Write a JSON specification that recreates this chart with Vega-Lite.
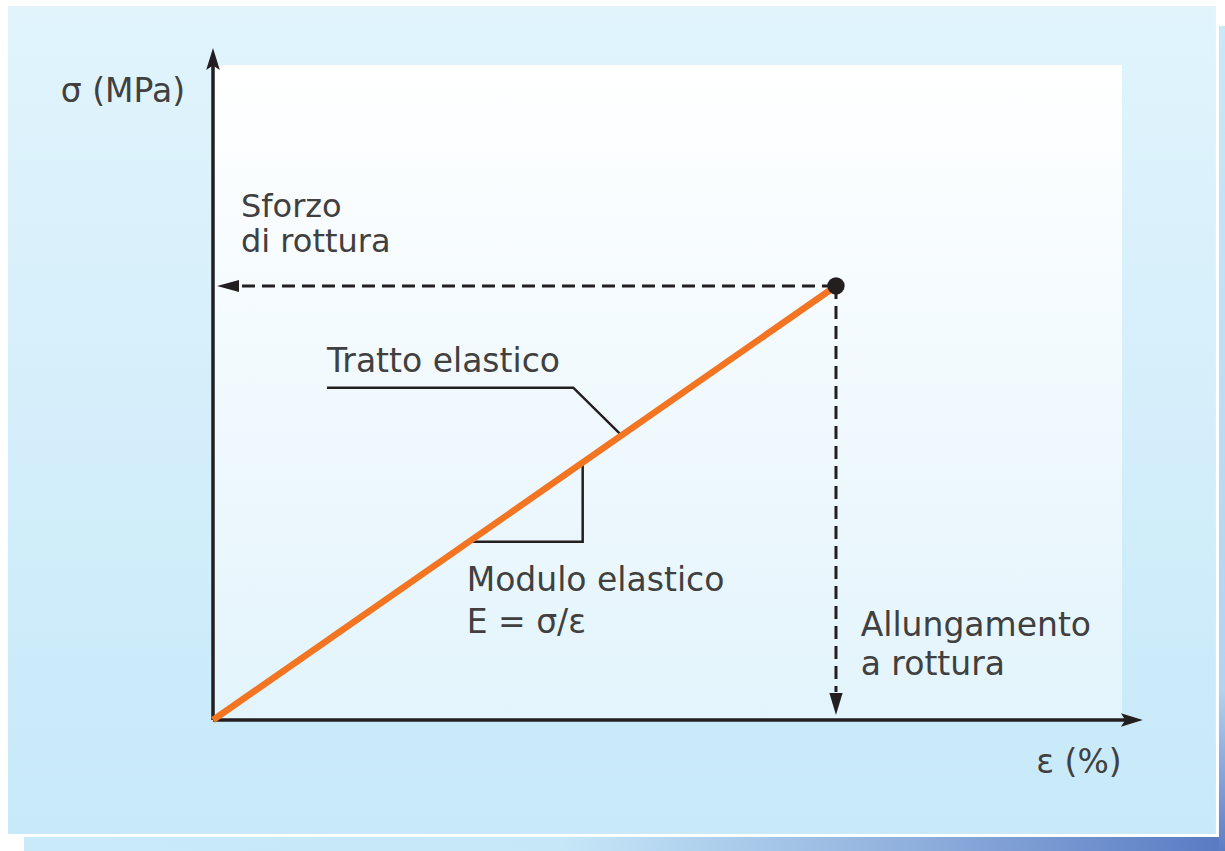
{
  "$schema": "https://vega.github.io/schema/vega-lite/v6.json",
  "width": 909,
  "height": 655,
  "autosize": {"type": "none"},
  "padding": {"left": 213, "top": 65, "right": 103, "bottom": 131},
  "background": "#ffffff",
  "config": {"view": {"stroke": null}, "text": {"font": "DejaVu Sans", "fontSize": 33, "color": "#404040", "baseline": "alphabetic", "lineBreak": "\n"}},
  "encoding": {
    "x": {"field": "eps", "type": "quantitative", "scale": {"domain": [0, 14.591], "nice": false, "zero": false}, "axis": null},
    "y": {"field": "sigma", "type": "quantitative", "scale": {"domain": [0, 15.092], "nice": false, "zero": false}, "axis": null}
  },
  "layer": [
    {
      "data": {"values": [{"eps": -3.291, "eps2": 16.099, "sigma": 16.452, "sigma2": -2.627}]},
      "mark": {"type": "rect", "color": {"gradient": "linear", "x1": 0, "y1": 0, "x2": 0, "y2": 1, "stops": [{"offset": 0, "color": "#e1f4fc"}, {"offset": 1, "color": "#c7e9f9"}]}},
      "encoding": {"x2": {"field": "eps2"}, "y2": {"field": "sigma2"}}
    },
    {
      "data": {"values": [{"eps": -3.034, "eps2": 16.148, "sigma": -2.696, "sigma2": -3.1}]},
      "mark": {"type": "rect", "color": {"gradient": "linear", "x1": 0, "y1": 0, "x2": 1, "y2": 0, "stops": [{"offset": 0, "color": "#c8eaf9"}, {"offset": 0.45, "color": "#c6e7f8"}, {"offset": 0.75, "color": "#8eaedc"}, {"offset": 1, "color": "#5a7bc3"}]}},
      "encoding": {"x2": {"field": "eps2"}, "y2": {"field": "sigma2"}}
    },
    {
      "data": {"values": [{"eps": 16.148, "eps2": 16.3, "sigma": 15.991, "sigma2": -3.1}]},
      "mark": {"type": "rect", "color": {"gradient": "linear", "x1": 0, "y1": 0, "x2": 0, "y2": 1, "stops": [{"offset": 0, "color": "#c8e9f9"}, {"offset": 0.8, "color": "#b2d3f1"}, {"offset": 1, "color": "#5a7bc3"}]}},
      "encoding": {"x2": {"field": "eps2"}, "y2": {"field": "sigma2"}}
    },
    {
      "data": {"values": [{"eps": 0, "eps2": 14.591, "sigma": 15.092, "sigma2": 0}]},
      "mark": {"type": "rect", "color": {"gradient": "linear", "x1": 0, "y1": 0, "x2": 0, "y2": 1, "stops": [{"offset": 0, "color": "#ffffff"}, {"offset": 1, "color": "#e3f4fc"}]}},
      "encoding": {"x2": {"field": "eps2"}, "y2": {"field": "sigma2"}}
    },
    {
      "data": {"values": [{"eps": 5.934, "sigma": 5.934, "ord": 1}, {"eps": 5.934, "sigma": 4.108, "ord": 2}, {"eps": 4.108, "sigma": 4.108, "ord": 3}]},
      "mark": {"type": "line", "color": "#231f20", "strokeWidth": 2.5, "strokeJoin": "miter"},
      "encoding": {"order": {"field": "ord", "type": "quantitative"}}
    },
    {
      "data": {"values": [{"eps": 1.83, "sigma": 7.657, "ord": 1}, {"eps": 5.783, "sigma": 7.657, "ord": 2}, {"eps": 6.53, "sigma": 6.6, "ord": 3}]},
      "mark": {"type": "line", "color": "#231f20", "strokeWidth": 2.5},
      "encoding": {"order": {"field": "ord", "type": "quantitative"}}
    },
    {
      "data": {"values": [{"eps": 0.465, "eps2": 10, "sigma": 10, "sigma2": 10}, {"eps": 10, "eps2": 10, "sigma": 10, "sigma2": 0.645}]},
      "mark": {"type": "rule", "color": "#231f20", "strokeWidth": 3, "strokeDash": [13, 7]},
      "encoding": {"x2": {"field": "eps2"}, "y2": {"field": "sigma2"}}
    },
    {
      "data": {"values": [{"eps": 0, "eps2": 14.7, "sigma": 0, "sigma2": 0}, {"eps": 0, "eps2": 0, "sigma": 0, "sigma2": 15.2}]},
      "mark": {"type": "rule", "color": "#231f20", "strokeWidth": 3.5},
      "encoding": {"x2": {"field": "eps2"}, "y2": {"field": "sigma2"}}
    },
    {
      "data": {"values": [{"eps": 0, "sigma": 0}, {"eps": 10, "sigma": 10}]},
      "mark": {"type": "line", "color": "#f47521", "strokeWidth": 6.5, "strokeCap": "butt"},
      "encoding": {}
    },
    {
      "data": {"values": [{"eps": 10, "sigma": 10}]},
      "mark": {"type": "point", "filled": true, "opacity": 1, "color": "#231f20", "size": 300, "shape": "circle"},
      "encoding": {}
    },
    {
      "data": {"values": [{"eps": 0, "sigma": 15.23}]},
      "mark": {"type": "point", "filled": true, "opacity": 1, "color": "#231f20", "size": 484, "shape": "M0,-1L0.62,1L0,0.6L-0.62,1Z"},
      "encoding": {}
    },
    {
      "data": {"values": [{"eps": 14.75, "sigma": 0}]},
      "mark": {"type": "point", "filled": true, "opacity": 1, "color": "#231f20", "size": 484, "shape": "M1,0L-1,-0.62L-0.6,0L-1,0.62Z"},
      "encoding": {}
    },
    {
      "data": {"values": [{"eps": 0.241, "sigma": 10}]},
      "mark": {"type": "point", "filled": true, "opacity": 1, "color": "#231f20", "size": 484, "shape": "M-1,0L1,-0.55L1,0.55Z"},
      "encoding": {}
    },
    {
      "data": {"values": [{"eps": 10, "sigma": 0.369}]},
      "mark": {"type": "point", "filled": true, "opacity": 1, "color": "#231f20", "size": 484, "shape": "M0,1L0.6,-1L-0.6,-1Z"},
      "encoding": {}
    },
    {
      "data": {"values": [{"eps": 0.449, "sigma": 11.59, "label": "Sforzo\ndi rottura"}]},
      "mark": {"type": "text", "align": "left", "lineHeight": 35, "fontSize": 32},
      "encoding": {"text": {"field": "label"}}
    },
    {
      "data": {"values": [{"eps": 1.83, "sigma": 8.011, "label": "Tratto elastico"}]},
      "mark": {"type": "text", "align": "left"},
      "encoding": {"text": {"field": "label"}}
    },
    {
      "data": {"values": [{"eps": 4.072, "sigma": 2.979, "label": "Modulo elastico\nE = σ/ε"}]},
      "mark": {"type": "text", "align": "left", "lineHeight": 42},
      "encoding": {"text": {"field": "label"}}
    },
    {
      "data": {"values": [{"eps": 10.396, "sigma": 1.935, "label": "Allungamento\na rottura"}]},
      "mark": {"type": "text", "align": "left", "lineHeight": 39},
      "encoding": {"text": {"field": "label"}}
    },
    {
      "data": {"values": [
        {"eps": -0.449, "sigma": 14.24, "label": "σ (MPa)"},
        {"eps": 14.586, "sigma": -1.228, "label": "ε (%)"}
      ]},
      "mark": {"type": "text", "align": "right"},
      "encoding": {"text": {"field": "label"}}
    }
  ]
}
